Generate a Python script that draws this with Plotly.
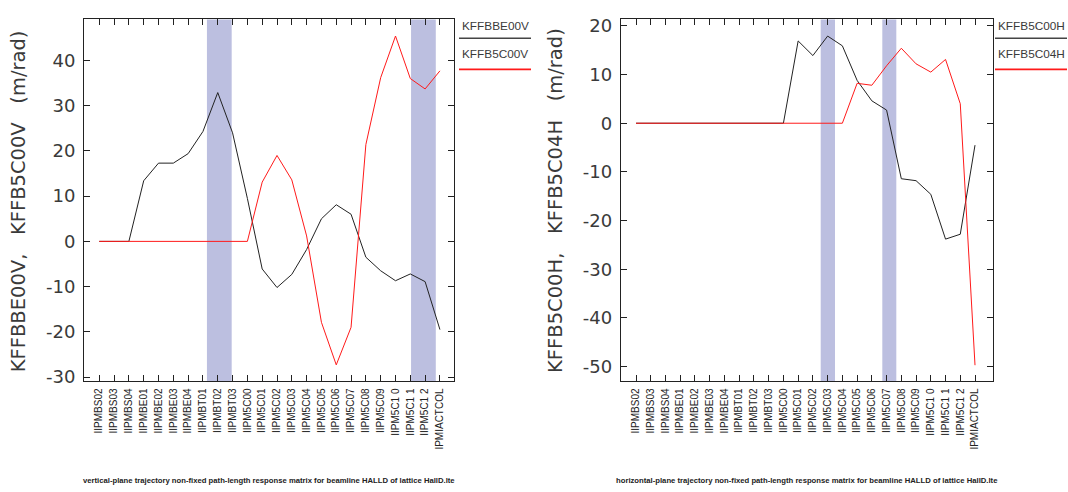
import plotly.graph_objects as go

# ---------------- data ----------------
categories = ["IIPMBS02", "IIPMBS03", "IIPMBS04", "IIPMBE01", "IIPMBE02", "IIPMBE03",
              "IIPMBE04", "IIPMBT01", "IIPMBT02", "IIPMBT03", "IIPM5C00", "IIPM5C01",
              "IIPM5C02", "IIPM5C03", "IIPM5C04", "IIPM5C05", "IIPM5C06", "IIPM5C07",
              "IIPM5C08", "IIPM5C09", "IIPM5C10", "IIPM5C11", "IIPM5C12", "IPMIACTCOL"]
tick_labels = ["IIPMBS02", "IIPMBS03", "IIPMBS04", "IIPMBE01", "IIPMBE02", "IIPMBE03",
               "IIPMBE04", "IIPMBT01", "IIPMBT02", "IIPMBT03", "IIPM5C00", "IIPM5C01",
               "IIPM5C02", "IIPM5C03", "IIPM5C04", "IIPM5C05", "IIPM5C06", "IIPM5C07",
               "IIPM5C08", "IIPM5C09", "IIPM5C1 0", "IIPM5C1 1", "IIPM5C1 2", "IPMIACTCOL"]

kffbbe00v = [0, 0, 0, 13.4, 17.3, 17.3, 19.4, 24.3, 32.9, 24.0, 9.5, -6.1,
             -10.2, -7.3, -1.8, 5.0, 8.1, 6.0, -3.5, -6.5, -8.7, -7.2, -8.9, -19.5]
kffb5c00v = [0, 0, 0, 0, 0, 0, 0, 0, 0, 0, 0, 13.1,
             19.0, 13.6, 1.2, -17.9, -27.3, -19.0, 21.4, 36.2, 45.4, 36.0, 33.7, 37.7]

kffb5c00h = [0, 0, 0, 0, 0, 0, 0, 0, 0, 0, 0, 16.9,
             13.9, 17.9, 15.9, 8.8, 4.6, 2.7, -11.4, -11.8, -14.6, -23.8, -22.8, -4.5]
kffb5c04h = [0, 0, 0, 0, 0, 0, 0, 0, 0, 0, 0, 0,
             0, 0, 0, 8.2, 7.8, 11.8, 15.4, 12.2, 10.5, 13.1, 4.0, -49.7]

left_bands = [(7.27, 8.94), (21.05, 22.72)]
right_bands = [(12.53, 13.5), (16.71, 17.66)]

left_yticks = [-30, -20, -10, 0, 10, 20, 30, 40]
right_yticks = [-50, -40, -30, -20, -10, 0, 10, 20]

left_title = "KFFBBE00V,   KFFB5C00V   (m/rad)"
right_title = "KFFB5C00H,   KFFB5C04H   (m/rad)"
left_caption = "vertical-plane trajectory non-fixed path-length response matrix for beamline HALLD of lattice HallD.lte"
right_caption = "horizontal-plane trajectory non-fixed path-length response matrix for beamline HALLD of lattice HallD.lte"

# ---------------- figure ----------------
W, H = 1068, 492
idx = list(range(len(categories)))
BLACK = "#222222"
RED = "#ff1a1a"
BAND = "#bcbfe0"
TXT = "#3a3a3a"

fig = go.Figure()
fig.add_trace(go.Scatter(x=idx, y=kffbbe00v, mode="lines", line=dict(color=BLACK, width=1),
                         name="KFFBBE00V", xaxis="x", yaxis="y"))
fig.add_trace(go.Scatter(x=idx, y=kffb5c00v, mode="lines", line=dict(color=RED, width=1),
                         name="KFFB5C00V", xaxis="x", yaxis="y"))
fig.add_trace(go.Scatter(x=idx, y=kffb5c00h, mode="lines", line=dict(color=BLACK, width=1),
                         name="KFFB5C00H", xaxis="x2", yaxis="y2"))
fig.add_trace(go.Scatter(x=idx, y=kffb5c04h, mode="lines", line=dict(color=RED, width=1),
                         name="KFFB5C04H", xaxis="x2", yaxis="y2"))

ydom = [1 - 385.3 / H, 1 - 15.7 / H]
xdom1 = [84 / W, 454.3 / W]
xdom2 = [620.7 / W, 992.7 / W]

xaxis_common = dict(
    tickmode="array", tickvals=idx, ticktext=tick_labels, tickangle=-90,
    ticks="inside", ticklen=6, tickcolor="#222", showline=True, linecolor="#222",
    linewidth=1, mirror="ticks", showgrid=False, zeroline=False,
    tickfont=dict(family="Liberation Sans, Arial, sans-serif", size=10, color="#222"),
    ticklabelstandoff=2,
)
yaxis_common = dict(
    ticks="inside", ticklen=6, tickcolor="#222", showline=True, linecolor="#222",
    linewidth=1, mirror="ticks", showgrid=False, zeroline=False,
    tickfont=dict(family="DejaVu Sans, sans-serif", size=18, color=TXT),
    ticklabelstandoff=4, domain=ydom,
)

fig.update_layout(
    width=W, height=H, autosize=False,
    margin=dict(l=0, r=0, t=0, b=0),
    paper_bgcolor="white", plot_bgcolor="white",
    showlegend=False,
    xaxis=dict(domain=xdom1, range=[-1.03, 23.97], anchor="y", **xaxis_common),
    yaxis=dict(range=[-30.97, 49.08], anchor="x", tickvals=left_yticks,
               ticktext=[str(v) for v in left_yticks], **yaxis_common),
    xaxis2=dict(domain=xdom2, range=[-1.04, 24.2], anchor="y2", **xaxis_common),
    yaxis2=dict(range=[-53.04, 21.33], anchor="x2", tickvals=right_yticks,
                ticktext=[str(v) for v in right_yticks], **yaxis_common),
)

shapes = []
for (a, b) in left_bands:
    shapes.append(dict(type="rect", xref="x", yref="y domain", x0=a, x1=b, y0=0, y1=1,
                       fillcolor=BAND, line=dict(width=0), layer="below"))
for (a, b) in right_bands:
    shapes.append(dict(type="rect", xref="x2", yref="y2 domain", x0=a, x1=b, y0=0, y1=1,
                       fillcolor=BAND, line=dict(width=0), layer="below"))

annotations = []
# y-axis titles
for xc, t in [(19.4, left_title), (556, right_title)]:
    annotations.append(dict(text=t, xref="paper", yref="paper", x=xc / W, y=1 - 201 / H,
                            xanchor="center", yanchor="middle", textangle=-90, showarrow=False,
                            font=dict(family="DejaVu Sans, sans-serif", size=19.5, color=TXT)))
# captions
for (x0, x1), t in [(xdom1, left_caption), (xdom2, right_caption)]:
    annotations.append(dict(text="<b>" + t + "</b>", xref="paper", yref="paper",
                            x=(x0 + x1) / 2, y=1 - 486.7 / H, xanchor="center", yanchor="middle",
                            showarrow=False,
                            font=dict(family="Liberation Sans, sans-serif",
                                      size=7.7, color="#222")))
# legends
LEGFONT = dict(family="Liberation Sans, Arial, sans-serif", size=11.8, color=TXT)
for xs, names in [(460, ["KFFBBE00V", "KFFB5C00V"]), (996, ["KFFB5C00H", "KFFB5C04H"])]:
    for (ty, ly, col), nm in zip([(22.5, 35, "#444"), (50.8, 66.7, RED)], names):
        annotations.append(dict(text=nm, xref="paper", yref="paper", x=xs / W, y=1 - ty / H,
                                xanchor="left", yanchor="middle", showarrow=False, font=LEGFONT))
        shapes.append(dict(type="line", xref="paper", yref="paper", x0=(xs - 1) / W,
                           x1=min(xs + 71, W) / W, y0=1 - ly / H, y1=1 - ly / H,
                           line=dict(color=col, width=1.6)))

fig.update_layout(shapes=shapes, annotations=annotations)
fig.write_html("out.html")
